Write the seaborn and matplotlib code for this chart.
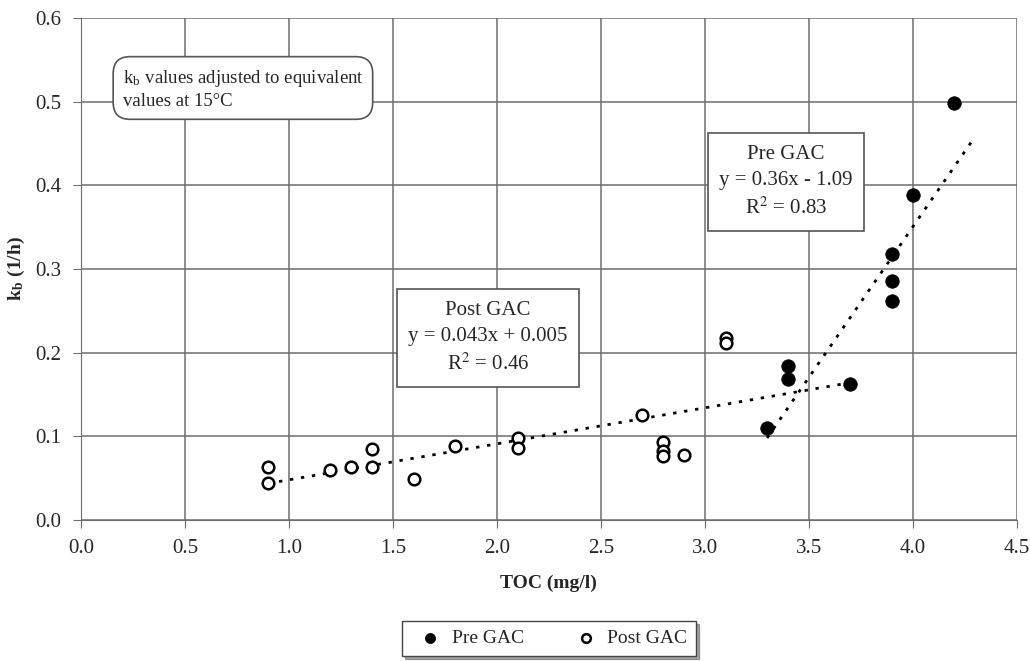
import matplotlib
matplotlib.use("Agg")
import matplotlib.pyplot as plt
import numpy as np
import pandas as pd
import seaborn as sns

# TOC (mg/l) and bulk decay coefficient kb (1/h)
pre_toc = [3.3, 3.4, 3.4, 3.7, 3.9, 3.9, 3.9, 4.0, 4.2]
pre_kb = [0.110, 0.184, 0.168, 0.163, 0.318, 0.285, 0.262, 0.388, 0.498]

post_toc = [0.9, 0.9, 1.2, 1.3, 1.4, 1.4, 1.6, 1.8, 2.1, 2.1,
            2.7, 2.8, 2.8, 2.8, 2.9, 3.1, 3.1]
post_kb = [0.063, 0.044, 0.060, 0.063, 0.085, 0.063, 0.049, 0.088, 0.098, 0.086,
           0.125, 0.093, 0.083, 0.076, 0.078, 0.218, 0.212]

# Linear trend lines (slope, intercept, R^2, x-range)
pre_fit = (0.36, -1.09, 0.83, (3.3, 4.3))
post_fit = (0.043, 0.005, 0.46, (0.9, 3.7))

x_ticks = [0.0, 0.5, 1.0, 1.5, 2.0, 2.5, 3.0, 3.5, 4.0, 4.5]
y_ticks = [0.0, 0.1, 0.2, 0.3, 0.4, 0.5, 0.6]

sns.set_style("white")
plt.rcParams["font.family"] = ["Liberation Serif", "DejaVu Serif"]
plt.rcParams["mathtext.fontset"] = "stix"

fig = plt.figure(figsize=(10.3, 6.61), dpi=100)
ax = fig.add_axes([0.0786, 0.2133, 0.9084, 0.7597])

pre_df = pd.DataFrame({"TOC": pre_toc, "kb": pre_kb})
post_df = pd.DataFrame({"TOC": post_toc, "kb": post_kb})

# trend lines
for slope, icpt, _, (x0, x1) in (post_fit, pre_fit):
    xs = np.array([x0, x1])
    sns.lineplot(x=xs, y=slope * xs + icpt, ax=ax, color="black",
                 linestyle=(0, (1.2, 2.8)), linewidth=2.0, zorder=3)

sns.scatterplot(data=post_df, x="TOC", y="kb", ax=ax, marker="o", s=70,
                facecolor="white", edgecolor="black", linewidth=1.8,
                zorder=4, label="Post GAC")
sns.scatterplot(data=pre_df, x="TOC", y="kb", ax=ax, marker="o", s=95,
                color="black", edgecolor="black", linewidth=0.5,
                zorder=5, label="Pre GAC")

ax.set_xlim(0, 4.5)
ax.set_ylim(0, 0.6)
ax.set_xticks(x_ticks)
ax.set_yticks(y_ticks)
ax.set_xticklabels([f"{v:.1f}" for v in x_ticks], fontsize=15)
ax.set_yticklabels([f"{v:.1f}" for v in y_ticks], fontsize=15)
ax.grid(True, color="#6e6e6e", linewidth=1.1)
ax.set_axisbelow(True)
for side in ("top", "right"):
    ax.spines[side].set_visible(False)
for side in ("left", "bottom"):
    ax.spines[side].set_color("#6e6e6e")
ax.tick_params(axis="both", direction="out", length=6, color="#6e6e6e",
               pad=8, left=True, bottom=True)

ax.set_xlabel("TOC (mg/l)", fontsize=14, fontweight="bold", labelpad=12)
ax.set_ylabel(r"k$_\mathregular{b}$ (1/h)", fontsize=14, fontweight="bold", labelpad=6)

# equation boxes
box = dict(boxstyle="square,pad=0.55", facecolor="white", edgecolor="#555555", linewidth=1.2)
slope, icpt, r2, _ = post_fit
ax.text(1.957, 0.2175, f"Post GAC\ny = {slope:.3f}x + {icpt:.3f}\n" + r"R$^2$" + f" = {r2:.2f}",
        ha="center", va="center", fontsize=15, linespacing=1.5, bbox=box, zorder=6)
slope, icpt, r2, _ = pre_fit
ax.text(3.39, 0.404, f"Pre GAC\ny = {slope:.2f}x - {abs(icpt):.2f}\n" + r"R$^2$" + f" = {r2:.2f}",
        ha="center", va="center", fontsize=15, linespacing=1.5, bbox=box, zorder=6)

ax.text(0.2, 0.515, r"k$_\mathregular{b}$ values adjusted to equivalent" + "\nvalues at 15°C",
        ha="left", va="center", fontsize=13.5, linespacing=1.3, zorder=6,
        bbox=dict(boxstyle="round,pad=0.5,rounding_size=0.9", facecolor="white",
                  edgecolor="#555555", linewidth=1.2))

# legend below the axes
handles, labels = ax.get_legend_handles_labels()
order = [labels.index("Pre GAC"), labels.index("Post GAC")]
leg = fig.legend([handles[i] for i in order], [labels[i] for i in order],
                 loc="center", bbox_to_anchor=(0.533, 0.034), ncol=2,
                 fontsize=14, frameon=True, fancybox=False, shadow=True,
                 handletextpad=0.1, columnspacing=2.2, markerscale=0.75,
                 borderpad=0.45)
leg.get_frame().set_edgecolor("#444444")
leg.get_frame().set_linewidth(1.0)
ax.get_legend().remove()

fig.savefig("out.png", dpi=100)
